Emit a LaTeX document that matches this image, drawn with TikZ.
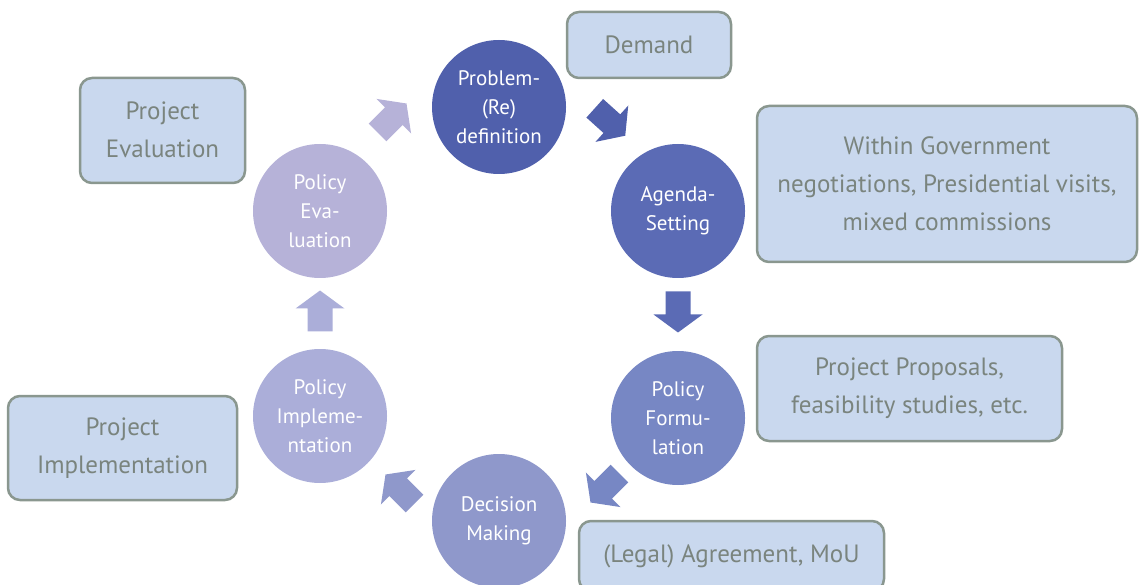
\documentclass[tikz,border=0pt]{standalone}
\usepackage{fontspec}
\setmainfont{PT Sans}
\definecolor{c1}{HTML}{5060AC}
\definecolor{c2}{HTML}{5B6BB5}
\definecolor{c3}{HTML}{7787C4}
\definecolor{c4}{HTML}{8F98CB}
\definecolor{c5}{HTML}{ABAED9}
\definecolor{c6}{HTML}{B6B2D8}
\definecolor{boxfill}{HTML}{C9D8EE}
\definecolor{boxline}{HTML}{8A978F}
\definecolor{boxtext}{HTML}{7A847E}
\newcommand\blockarrow[4]{%
  \fill[#4, shift={(#1,#2)}, rotate=#3] (-20.5,-12.5) -- (2.5,-12.5) -- (2.5,-24.5) -- (20.5,0) -- (2.5,24.5) -- (2.5,12.5) -- (-20.5,12.5) -- cycle;}
\tikzset{
  phase/.style={circle, minimum size=134pt, inner sep=0pt, text=white, align=center,
    font=\fontsize{21}{29}\selectfont},
  infobox/.style={draw=boxline, line width=2.5pt, fill=boxfill, rounded corners=12pt,
    text=boxtext, align=center, inner sep=0pt, font=\fontsize{25}{38}\selectfont},
}
\begin{document}
\begin{tikzpicture}[x=1pt,y=1pt]
\useasboundingbox (0,0) rectangle (1139,584);
\begin{scope}
\clip (0,0) rectangle (1139,584);
\node[phase, fill=c1] (prob) at (499,477) {Problem-\\(Re)\\definition};
\node[phase, fill=c2] (agenda) at (678,373) {Agenda-\\Setting};
\node[phase, fill=c3] (form) at (678,166) {Policy\\Formu-\\lation};
\node[phase, fill=c4] (dec) at (499,63) {Decision\\Making};
\node[phase, fill=c5] (impl) at (320,168) {Policy\\Impleme-\\ntation};
\node[phase, fill=c6] (eval) at (320,373) {Policy\\Eva-\\luation};

\blockarrow{610}{462}{-42}{c1}
\blockarrow{678}{272}{-90}{c2}
\blockarrow{605}{96}{-135}{c3}
\blockarrow{400}{95}{135}{c4}
\blockarrow{320}{273}{90}{c5}
\blockarrow{392}{466}{45}{c6}

\node[infobox, minimum width=164pt, minimum height=66pt] (demand) at (649,539) {Demand};
\node[infobox, minimum width=380pt, minimum height=156pt] (within) at (947,400) {Within Government\\negotiations, Presidential visits,\\mixed commissions};
\node[infobox, minimum width=305pt, minimum height=105pt] (prop) at (909.5,195.5) {Project Proposals,\\feasibility studies, etc.};
\node[infobox, minimum width=305pt, minimum height=70pt] (legal) at (731.5,28) {(Legal) Agreement, MoU};
\node[infobox, minimum width=229pt, minimum height=104pt] (pimpl) at (122.5,136) {Project\\Implementation};
\node[infobox, minimum width=165pt, minimum height=105pt] (peval) at (162.5,453.5) {\raisebox{2pt}{Project}\\\raisebox{2pt}{Evaluation}};
\end{scope}
\end{tikzpicture}
\end{document}
